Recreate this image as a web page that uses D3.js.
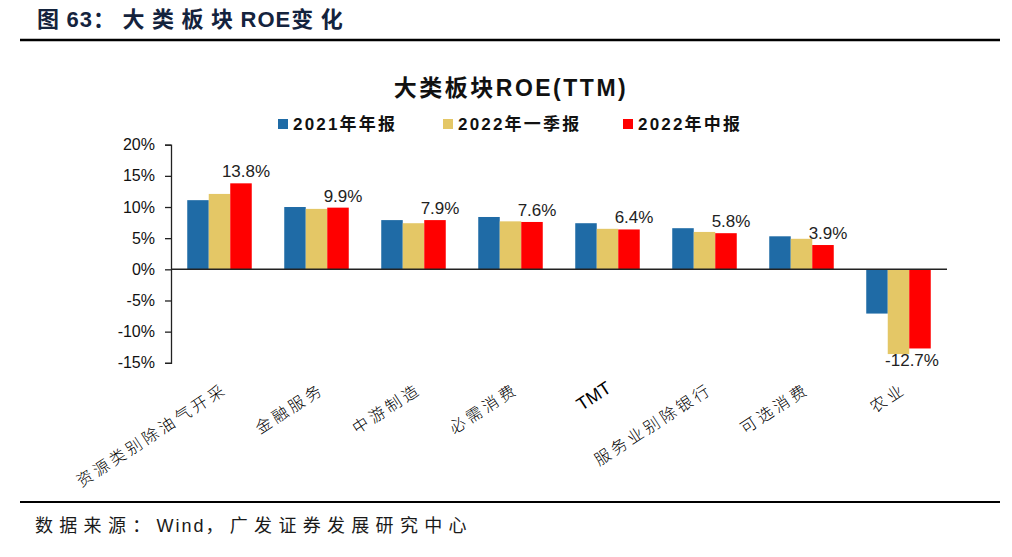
<!DOCTYPE html>
<html><head><meta charset="utf-8">
<script src="https://cdn.jsdelivr.net/npm/d3@7/dist/d3.min.js"></script>
<style>
html,body{margin:0;padding:0;background:#fff;}
svg{display:block;}
</style></head>
<body>
<svg id="chart" width="1012" height="557"></svg>
<script>
const categories = ["资源类别除油气开采","金融服务","中游制造","必需消费","TMT","服务业别除银行","可选消费","农业"];
const seriesNames = ["2021年年报","2022年一季报","2022年中报"];
const s2021 = [11.1, 10.0, 7.9, 8.4, 7.4, 6.6, 5.3, -7.1];
const s2022q1 = [12.1, 9.7, 7.4, 7.7, 6.5, 6.0, 4.9, -13.6];
const s2022h1 = [13.8, 9.9, 7.9, 7.6, 6.4, 5.8, 3.9, -12.7];
const yTicks = [20, 15, 10, 5, 0, -5, -10, -15];
const colors = ["#1f6ba6", "#e4c766", "#ff0000"];

const series = [s2021, s2022q1, s2022h1];
const svg = d3.select("#chart");
const cjk = "'Liberation Sans', Arial, 'Noto Sans CJK SC', sans-serif";

function mixedText(sel, str, cjkSpacing, latinSpacing) {
  const parts = str.match(/[A-Za-z0-9()]+|[^A-Za-z0-9()]+/g);
  parts.forEach(p => {
    sel.append("tspan")
      .attr("letter-spacing", /[A-Za-z0-9()]/.test(p[0]) ? latinSpacing : cjkSpacing)
      .text(p);
  });
}

// header
mixedText(svg.append("text").attr("x", 37).attr("y", 27)
  .attr("font-family", cjk).attr("font-weight", "bold").attr("font-size", 22)
  .attr("fill", "#14233d"), "图63：大类板块ROE变化", 7.5, 1);
svg.append("line").attr("x1", 20).attr("x2", 1000).attr("y1", 40).attr("y2", 40)
  .attr("stroke", "#000").attr("stroke-width", 2.5);
svg.append("line").attr("x1", 20).attr("x2", 1000).attr("y1", 502).attr("y2", 502)
  .attr("stroke", "#000").attr("stroke-width", 2);
mixedText(svg.append("text").attr("x", 35).attr("y", 532)
  .attr("font-family", cjk).attr("font-size", 18).attr("fill", "#1a1a1a"),
  "数据来源：Wind，广发证券发展研究中心", 6.3, 2);

// chart title
svg.append("text").attr("x", 511).attr("y", 96).attr("text-anchor", "middle")
  .attr("font-family", cjk).attr("font-weight", "bold").attr("font-size", 23)
  .attr("fill", "#111").attr("letter-spacing", 2.5)
  .text("大类板块ROE(TTM)");

// legend
const legendX = [278, 443, 623];
seriesNames.forEach((n, i) => {
  svg.append("rect").attr("x", legendX[i]).attr("y", 119).attr("width", 10).attr("height", 10)
    .attr("fill", colors[i]);
  svg.append("text").attr("x", legendX[i] + 15).attr("y", 130)
    .attr("font-family", cjk).attr("font-weight", "bold").attr("font-size", 17)
    .attr("fill", "#111").attr("letter-spacing", 2.2)
    .text(n);
});

// scales
const x0 = d3.scaleBand().domain(categories).range([171, 947]).paddingInner(0.335).paddingOuter(0.1675);
const x1 = d3.scaleBand().domain(d3.range(3)).range([0, x0.bandwidth()]).padding(0);
const y = d3.scaleLinear().domain([-15, 20]).range([362.8, 144.7]);

// bars
const g = svg.append("g");
categories.forEach((c, ci) => {
  series.forEach((s, si) => {
    const v = s[ci];
    g.append("rect")
      .attr("x", x0(c) + x1(si))
      .attr("width", x1.bandwidth())
      .attr("y", y(Math.max(0, v)))
      .attr("height", Math.abs(y(v) - y(0)))
      .attr("fill", colors[si]);
  });
  const v = s2022h1[ci];
  const cx = x0(c) + x1(2) + x1.bandwidth() / 2;
  g.append("text")
    .attr("x", cx + (v >= 0 ? 5 : -8))
    .attr("y", v >= 0 ? y(v) - 6 : y(v) + 18)
    .attr("text-anchor", "middle")
    .attr("font-family", "'Liberation Sans', Arial, sans-serif")
    .attr("font-size", 17).attr("fill", "#222")
    .text(v.toFixed(1) + "%");
});

// y axis
const yAxis = d3.axisLeft(y).tickValues(yTicks).tickSize(6).tickPadding(10)
  .tickFormat(d => d + "%");
const ya = svg.append("g").attr("transform", "translate(171,0)").call(yAxis);
ya.select(".domain").attr("stroke", "#222").attr("stroke-width", 1.3);
ya.selectAll(".tick line").attr("stroke", "#222").attr("stroke-width", 1.3);
ya.selectAll(".tick text").attr("font-family", "'Liberation Sans', Arial, sans-serif")
  .attr("font-size", 16).attr("fill", "#111");

// zero line
svg.append("line").attr("x1", 171).attr("x2", 947).attr("y1", y(0)).attr("y2", y(0))
  .attr("stroke", "#222").attr("stroke-width", 1.5);

// category labels
categories.forEach(c => {
  const cx = x0(c) + x0.bandwidth() / 2;
  const isLatin = /^[A-Za-z]+$/.test(c);
  svg.append("text")
    .attr("transform", `translate(${cx + (isLatin ? 5 : 9)},${isLatin ? 391 : 392}) rotate(-33)`)
    .attr("text-anchor", "end")
    .attr("font-family", isLatin ? "'Liberation Sans', Arial, sans-serif" : "'Noto Sans CJK SC', sans-serif")
    .attr("font-weight", isLatin ? "normal" : 300)
    .attr("font-size", isLatin ? 18 : 16)
    .attr("letter-spacing", isLatin ? 0 : 3.5)
    .attr("fill", "#000")
    .text(c);
});
</script>
</body></html>
